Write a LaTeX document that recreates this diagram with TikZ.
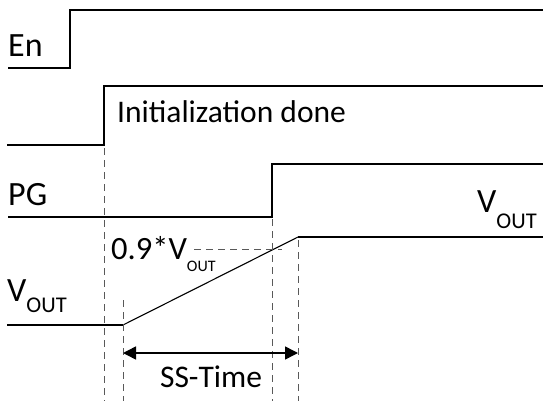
\documentclass[tikz,border=0pt]{standalone}
\usepackage{fontspec}
\setmainfont{Carlito}
\usetikzlibrary{arrows.meta}
\newcommand{\voutlabel}[2]{V\raisebox{-#2}{\fontsize{#1}{#1}\selectfont OUT}}
\begin{document}
\begin{tikzpicture}[x=1pt, y=-1pt,
	signal/.style={line width=1.5pt, line join=miter},
	guide/.style={line width=0.8pt, draw=black!65, dash pattern=on 7pt off 5pt},
	lbl/.style={anchor=base west, inner sep=0pt, font=\fontsize{34}{34}\selectfont}]
	\useasboundingbox (0,0) rectangle (543,401);

	% signals
	\draw[signal] (8,68) -- (70,68) -- (70,10) -- (543,10);
	\draw[signal] (7,145) -- (104,145) -- (104,86) -- (543,86);
	\draw[signal] (8,217) -- (272,217) -- (272,164) -- (543,164);
	\coordinate (rs) at (123,325);
	\coordinate (re) at (298,237);
	\draw[signal] (7,325) -- (rs);
	\draw[line width=1.1pt] (rs) -- (re);
	\draw[signal] (re) -- (543,237);

	% guides
	\draw[guide] (104,148) -- (104,401);
	\draw[guide] (272,219) -- (272,401);
	\draw[guide] (123,300) -- (123,401);
	\draw[guide] (298,240) -- (298,401);
	\draw[guide] (194,249) -- (282,249);

	% labels
	\node[lbl] (en) at (8,57) {En};
	\node[lbl, font=\fontsize{31.5}{31.5}\selectfont] (init) at (117,122) {Initialization done};
	\node[lbl] (pg) at (8,205) {PG};
	\node[lbl] (voutr) at (477,212) {\voutlabel{22.5}{16pt}};
	\node[lbl] (voutl) at (7,301) {\voutlabel{22.5}{11pt}};
	\node[lbl, font=\fontsize{32.5}{32.5}\selectfont] (ninety) at (111,259) {0.9*\voutlabel{16}{12pt}};

	% soft start time
	\coordinate (ssa) at (123,353);
	\coordinate (ssb) at (298,353);
	\draw[{Triangle[length=13pt, width=13pt]}-{Triangle[length=13pt, width=13pt]}, line width=1.5pt] (ssa) -- (ssb);
	\node[lbl, font=\fontsize{31.5}{31.5}\selectfont] (ss) at (160,387) {SS-Time};
\end{tikzpicture}
\end{document}
